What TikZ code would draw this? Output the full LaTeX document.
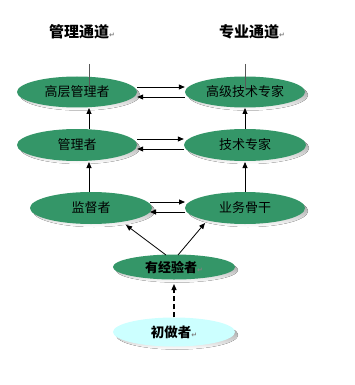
\documentclass[tikz,border=0pt]{standalone}
\usepackage{fontspec}
\newfontfamily\cjk{Noto Sans CJK SC}
\newfontfamily\symf{DejaVu Sans}
\usetikzlibrary{arrows.meta,shapes.geometric}
\definecolor{ovgreen}{RGB}{52,150,104}
\definecolor{ovcyan}{RGB}{204,255,255}
\definecolor{shade}{RGB}{128,128,128}
\tikzset{
  ov/.style={ellipse, draw=none, fill=ovgreen, minimum width=120pt, minimum height=31pt, inner sep=0pt, font=\cjk\fontsize{13}{14}\selectfont},
  arr/.style={-{Triangle[length=6pt,width=5pt]}, line width=0.8pt},
  head/.style={font=\cjk\bfseries\fontsize{15}{17}\selectfont}
}
\newcommand{\retm}{\textcolor{gray}{\symf\fontsize{7}{7}\selectfont ↵}}
\begin{document}
\begin{tikzpicture}[x=1pt,y=-1pt]
\useasboundingbox (0,0) rectangle (354,385);
% headers
\node[head] (h1) at (82,32) {管理通道\retm};
\node[head] (h2) at (252,32) {专业通道\retm};
% top lines
\coordinate (l1) at (89,64);
\coordinate (l2) at (245,64);
% shadows
\foreach \x/\y/\w/\h in {77/92/120/31, 245/92/120/31, 77/145/120/32, 245/145/122/32, 91/208/122/32, 245/208/120/32, 174/267/122/25, 174/332/122/29}{
  \fill[shade] (\x+3,\y+3) ellipse [x radius=\w/2, y radius=\h/2];
}
\node[ov] (a1) at (77,92) {高层管理者};
\node[ov] (b1) at (245,92) {高级技术专家};
\node[ov, minimum height=32pt] (a2) at (77,145) {管理者};
\node[ov, minimum height=32pt, minimum width=122pt] (b2) at (245,145) {技术专家};
\node[ov, minimum height=32pt, minimum width=122pt] (a3) at (91,208) {监督者};
\node[ov, minimum height=32pt] (b3) at (245,208) {业务骨干};
\node[ov, minimum height=25pt, minimum width=122pt, font=\cjk\bfseries\fontsize{13}{14}\selectfont] (c) at (174,267) {有经验者\retm};
\node[ov, fill=ovcyan, minimum height=29pt, minimum width=122pt, font=\cjk\bfseries\fontsize{13.5}{14}\selectfont] (d) at (174,332) {初做者\retm};
% top lines over the ellipses
\draw[line width=0.5pt, gray!70!black] (l1) -- (89,87);
\draw[line width=0.5pt, gray!70!black] (l2) -- (245,90);
% horizontal arrows
\draw[arr] (a1.east |- 0,87) -- (b1.west |- 0,87);
\draw[arr] (b1.west |- 0,97) -- (a1.east |- 0,97);
\draw[arr] (a2.east |- 0,139) -- (b2.west |- 0,139);
\draw[arr] (b2.west |- 0,149) -- (a2.east |- 0,149);
\draw[arr] (150,202) -- (185,202);
\draw[arr] (185,212) -- (150,212);
% vertical arrows
\draw[arr] (89,129) -- (89,108);
\draw[arr] (245,129) -- (245,108);
\draw[arr] (89,192) -- (89,162);
\draw[arr] (245,192) -- (245,162);
% diagonals
\draw[arr] (166,255) -- (126,225);
\draw[arr] (178,255) -- (205,223);
% dashed
\draw[arr, dash pattern=on 5pt off 3pt, line width=1.2pt] (d.north) -- (174,284);
\end{tikzpicture}
\end{document}
